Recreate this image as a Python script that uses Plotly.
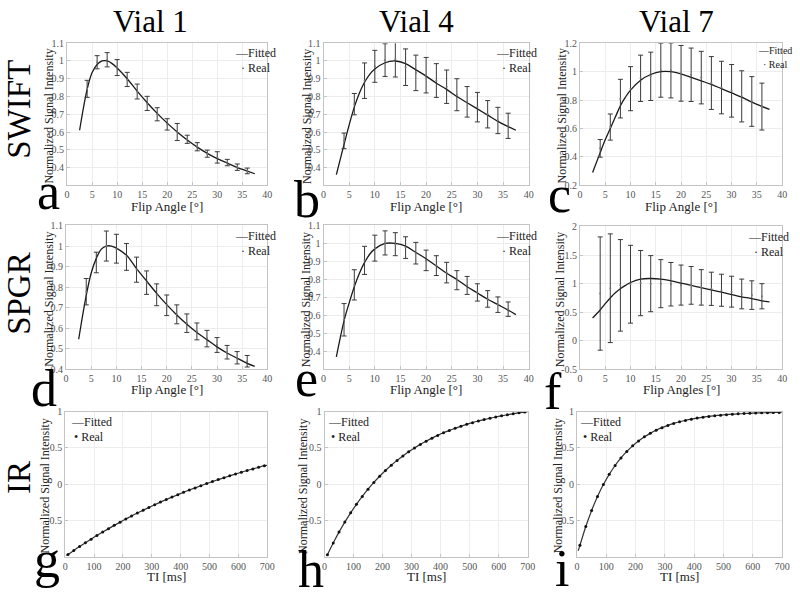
import plotly.graph_objects as go

# ---------------- data ----------------
FLIP = [4, 6, 8, 10, 12, 14, 16, 18, 20, 22, 24, 26, 28, 30, 32, 34, 36]
FIT_FLIP = [2.5, 4, 5, 6, 7, 8, 9, 10, 12, 14, 16, 18, 20, 22, 24, 26, 28, 30, 32, 34, 36, 37.5]

# (a) SWIFT vial 1
a_mean = [0.843, 0.993, 1.007, 0.963, 0.896, 0.828, 0.761, 0.700, 0.643, 0.600, 0.559, 0.517, 0.478, 0.457, 0.428, 0.402, 0.381]
a_err = [0.048, 0.037, 0.040, 0.045, 0.040, 0.042, 0.040, 0.037, 0.032, 0.048, 0.023, 0.023, 0.020, 0.032, 0.018, 0.018, 0.016]
a_fit = [0.61, 0.84, 0.935, 0.98, 1.0, 1.0, 0.985, 0.96, 0.9, 0.83, 0.765, 0.705, 0.65, 0.6, 0.555, 0.515, 0.48, 0.45, 0.425, 0.4, 0.38, 0.365]
# (b) SWIFT vial 4
b_mean = [0.550, 0.757, 0.889, 0.970, 1.005, 1.010, 0.965, 0.933, 0.920, 0.890, 0.855, 0.810, 0.770, 0.740, 0.700, 0.665, 0.635]
b_err = [0.044, 0.060, 0.100, 0.090, 0.092, 0.100, 0.103, 0.100, 0.100, 0.095, 0.094, 0.090, 0.086, 0.083, 0.077, 0.074, 0.071]
b_fit = [0.36, 0.53, 0.64, 0.74, 0.82, 0.88, 0.925, 0.955, 0.99, 1.0, 0.985, 0.95, 0.915, 0.875, 0.84, 0.80, 0.765, 0.73, 0.695, 0.66, 0.63, 0.61]
# (c) SWIFT vial 7
c_mean = [0.460, 0.610, 0.810, 0.880, 0.953, 0.967, 1.010, 1.008, 0.988, 0.978, 0.958, 0.920, 0.888, 0.865, 0.826, 0.790, 0.754]
c_err = [0.062, 0.092, 0.136, 0.155, 0.163, 0.170, 0.190, 0.193, 0.196, 0.188, 0.185, 0.186, 0.185, 0.185, 0.180, 0.175, 0.165]
c_fit = [0.29, 0.43, 0.52, 0.6, 0.68, 0.76, 0.82, 0.87, 0.94, 0.98, 1.0, 1.0, 0.985, 0.96, 0.935, 0.91, 0.88, 0.85, 0.82, 0.785, 0.755, 0.735]
# (d) SPGR vial 1
d_mean = [0.778, 0.920, 1.000, 0.987, 0.947, 0.885, 0.822, 0.763, 0.712, 0.668, 0.625, 0.585, 0.550, 0.519, 0.484, 0.457, 0.440]
d_err = [0.064, 0.050, 0.073, 0.070, 0.065, 0.061, 0.057, 0.053, 0.050, 0.046, 0.045, 0.041, 0.040, 0.036, 0.033, 0.030, 0.028]
d_fit = [0.547, 0.76, 0.87, 0.94, 0.985, 1.0, 1.0, 0.99, 0.955, 0.89, 0.83, 0.77, 0.715, 0.665, 0.62, 0.58, 0.545, 0.51, 0.48, 0.455, 0.43, 0.415]
# (e) SPGR vial 4
e_mean = [0.576, 0.770, 0.906, 0.974, 1.003, 0.996, 0.977, 0.946, 0.906, 0.877, 0.838, 0.796, 0.767, 0.728, 0.692, 0.660, 0.635]
e_err = [0.090, 0.084, 0.078, 0.072, 0.067, 0.064, 0.060, 0.060, 0.057, 0.055, 0.057, 0.053, 0.050, 0.048, 0.046, 0.043, 0.040]
e_fit = [0.37, 0.57, 0.67, 0.76, 0.835, 0.895, 0.94, 0.97, 1.0, 1.0, 0.985, 0.95, 0.915, 0.875, 0.835, 0.80, 0.76, 0.725, 0.69, 0.66, 0.63, 0.605]
# (f) SPGR vial 7
f_mean = [0.827, 0.920, 0.970, 0.990, 1.010, 1.000, 1.000, 0.990, 0.975, 0.970, 0.935, 0.910, 0.885, 0.860, 0.820, 0.800, 0.780]
f_err = [0.990, 0.950, 0.800, 0.680, 0.570, 0.490, 0.420, 0.380, 0.350, 0.330, 0.310, 0.290, 0.280, 0.270, 0.260, 0.250, 0.220]
f_fit = [0.40, 0.54, 0.65, 0.75, 0.84, 0.91, 0.97, 1.02, 1.08, 1.09, 1.08, 1.05, 1.01, 0.97, 0.93, 0.89, 0.85, 0.81, 0.77, 0.74, 0.70, 0.68]

# IR
TI = [10, 30, 50, 70, 90, 110, 130, 150, 170, 190, 210, 230, 250, 270, 290, 310, 330, 350,
      370, 390, 410, 430, 450, 470, 490, 510, 530, 550, 570, 590, 610, 630, 650, 670, 690]
g_real = [-0.972, -0.916, -0.862, -0.810, -0.759, -0.709, -0.661, -0.614, -0.569, -0.525, -0.482, -0.440,
          -0.399, -0.360, -0.322, -0.284, -0.248, -0.213, -0.179, -0.146, -0.113, -0.082, -0.052, -0.022,
          0.007, 0.035, 0.062, 0.088, 0.114, 0.139, 0.163, 0.187, 0.210, 0.232, 0.254]
h_real = [-0.973, -0.811, -0.662, -0.524, -0.396, -0.279, -0.170, -0.070, 0.023, 0.108, 0.187, 0.260,
          0.327, 0.389, 0.446, 0.499, 0.548, 0.592, 0.634, 0.672, 0.708, 0.740, 0.771, 0.798,
          0.824, 0.848, 0.870, 0.890, 0.909, 0.926, 0.942, 0.957, 0.970, 0.983, 0.994]
i_real = [-0.845, -0.585, -0.363, -0.171, -0.006, 0.135, 0.257, 0.361, 0.451, 0.528, 0.594, 0.652,
          0.700, 0.743, 0.779, 0.810, 0.837, 0.860, 0.879, 0.896, 0.911, 0.923, 0.934, 0.943,
          0.951, 0.958, 0.964, 0.969, 0.974, 0.977, 0.980, 0.983, 0.985, 0.987, 0.989]
IR_FIT_START = [5, 8, 4]          # TI where fitted curve starts (g, h, i)
IR_FIT_START_VAL = [-0.99, -0.99, -0.92]
IR_FIT_END = 700
IR_FIT_END_VAL = [0.26, 1.0, 0.995]

COL_TITLES = ["Vial 1", "Vial 4", "Vial 7"]
ROW_TITLES = ["SWIFT", "SPGR", "IR"]
PANEL_LETTERS = ["a", "b", "c", "d", "e", "f", "g", "h", "i"]
XTITLES = ["Flip Angle [°]", "Flip Angle [°]", "Flip Angle [°]",
           "Flip Angle [°]", "Flip Angle [°]", "Flip Angles [°]",
           "TI [ms]", "TI [ms]", "TI [ms]"]
YTITLE = "Normalized Signal Intensity"

# ---------------- layout geometry (pixels) ----------------
W, H = 800, 592
def fx(x):
    return x / W
def fy(y):
    return 1 - y / H

# (left, right, top, bottom) of each plot area
BOX = [
    (65, 268, 38, 183), (325, 533, 38, 183), (585, 790, 38, 183),
    (64, 268, 224, 371), (325, 533, 224, 371), (585, 790, 225, 371),
    (63, 268, 414, 562), (326, 532, 414, 562), (582, 790, 414, 562),
]
YRANGES = [(0.3, 1.1), (0.3, 1.1), (0.2, 1.2), (0.4, 1.1), (0.3, 1.1), (-0.5, 2), (-1, 1), (-1, 1), (-1, 1)]
YTICKS = [
    [0.4, 0.5, 0.6, 0.7, 0.8, 0.9, 1.0, 1.1],
    [0.4, 0.5, 0.6, 0.7, 0.8, 0.9, 1.0, 1.1],
    [0.2, 0.4, 0.6, 0.8, 1.0, 1.2],
    [0.4, 0.5, 0.6, 0.7, 0.8, 0.9, 1.0, 1.1],
    [0.4, 0.5, 0.6, 0.7, 0.8, 0.9, 1.0, 1.1],
    [-0.5, 0, 0.5, 1, 1.5, 2],
    [-0.5, 0, 0.5, 1], [-0.5, 0, 0.5, 1], [-0.5, 0, 0.5, 1],
]
FLIP_TICKS = [0, 5, 10, 15, 20, 25, 30, 35, 40]
TI_TICKS = [0, 100, 200, 300, 400, 500, 600, 700]

def fmt(v):
    return "%g" % v

FONT = "Liberation Serif, Times New Roman, Times, serif"
fig = go.Figure()
layout = dict(width=W, height=H, margin=dict(l=0, r=0, t=0, b=0),
              paper_bgcolor="white", plot_bgcolor="white", showlegend=False,
              font=dict(family=FONT))

flip_sets = [(a_mean, a_err, a_fit), (b_mean, b_err, b_fit), (c_mean, c_err, c_fit),
             (d_mean, d_err, d_fit), (e_mean, e_err, e_fit), (f_mean, f_err, f_fit)]
ir_sets = [g_real, h_real, i_real]

for k in range(9):
    n = "" if k == 0 else str(k + 1)
    xa, ya = "x" + n, "y" + n
    l, r, t, b = BOX[k]
    is_ir = k >= 6
    xticks = TI_TICKS if is_ir else FLIP_TICKS
    layout["xaxis" + n] = dict(
        domain=[fx(l), fx(r)], anchor=ya, range=[0, 700] if is_ir else [0, 40],
        tickvals=xticks, ticktext=[str(v) for v in xticks],
        showgrid=True, gridcolor="#ededed", gridwidth=1, zeroline=False,
        showline=True, linecolor="#c4c4c4", linewidth=1, mirror=True,
        ticks="inside", ticklen=3, tickcolor="#c4c4c4",
        tickfont=dict(family=FONT, size=10, color="#555"))
    layout["yaxis" + n] = dict(
        domain=[fy(b), fy(t)], anchor=xa, range=list(YRANGES[k]),
        tickvals=YTICKS[k], ticktext=[fmt(v) for v in YTICKS[k]],
        showgrid=True, gridcolor="#ededed", gridwidth=1, zeroline=False,
        showline=True, linecolor="#c4c4c4", linewidth=1, mirror=True,
        ticks="inside", ticklen=3, tickcolor="#c4c4c4",
        tickfont=dict(family=FONT, size=10, color="#555"))
    if not is_ir:
        mean, err, fit = flip_sets[k]
        fig.add_trace(go.Scatter(x=FIT_FLIP, y=fit, mode="lines", line_shape="spline",
                                 line=dict(color="#1a1a1a", width=1.3), xaxis=xa, yaxis=ya))
        fig.add_trace(go.Scatter(x=FLIP, y=mean, mode="markers",
                                 marker=dict(size=2, color="#777"),
                                 error_y=dict(type="data", array=err, color="#3a3a3a", thickness=1, width=2.5),
                                 xaxis=xa, yaxis=ya))
    else:
        j = k - 6
        real = ir_sets[j]
        fx_ = [IR_FIT_START[j]] + TI + [IR_FIT_END]
        fy_ = [IR_FIT_START_VAL[j]] + real + [IR_FIT_END_VAL[j]]
        fig.add_trace(go.Scatter(x=fx_, y=fy_, mode="lines", line_shape="spline",
                                 line=dict(color="#333", width=1.2), xaxis=xa, yaxis=ya))
        fig.add_trace(go.Scatter(x=TI, y=real, mode="markers",
                                 marker=dict(size=3, color="#111"), xaxis=xa, yaxis=ya))

fig.update_layout(**layout)

ann = []
def add_text(x, y, text, size, xanchor="center", yanchor="middle", angle=0, color="#000"):
    ann.append(dict(x=fx(x), y=fy(y), xref="paper", yref="paper", text=text, showarrow=False,
                    xanchor=xanchor, yanchor=yanchor, textangle=angle,
                    font=dict(family=FONT, size=size, color=color)))

# column titles
for x, t in zip([150, 419, 683], COL_TITLES):
    add_text(x, 16, t, 31)
# row titles
for y, t in zip([105, 293, 481], ROW_TITLES):
    add_text(16, y, t, 33, angle=-90)

# axis titles
XT_Y = [205, 205, 205, 391, 391, 391, 582, 582, 582]
YT_X = [47, 308, 567, 47, 308, 565, 43, 304, 563]
for k in range(9):
    l, r, t, b = BOX[k]
    add_text((l + r) / 2, XT_Y[k], XTITLES[k], 13, color="#222")
    add_text(YT_X[k], (t + b) / 2 + 2, YTITLE, 12, angle=-90, color="#222")

# legends
LEG = [(233, 48, 12), (498, 48, 12), (763, 45, 10), (233, 235, 12), (498, 235, 12), (753, 236, 12),
       (67, 425, 12), (328, 425, 12), (583, 425, 12)]
for k, (x, y, s) in enumerate(LEG):
    add_text(x, y, "\u2014Fitted", s, xanchor="left", color="#222")
    dot = "\u2022" if k >= 6 else "\u00b7"
    add_text(x + (3 if k >= 6 else 6), y + 15, dot + " Real", s, xanchor="left", color="#222")

# panel letters (x right edge, baseline y)
LET = [(60, 206), (323, 215), (578, 209), (57, 407), (321, 397), (569, 410), (60, 582), (328, 592), (576, 591)]
for (x, yb), t in zip(LET, PANEL_LETTERS):
    add_text(x, yb - 17, t, 52, xanchor="right")

fig.update_layout(annotations=ann)
fig.write_html("out.html", config={"displayModeBar": False},
               post_script="document.body.style.margin='0';document.body.style.padding='0';")
